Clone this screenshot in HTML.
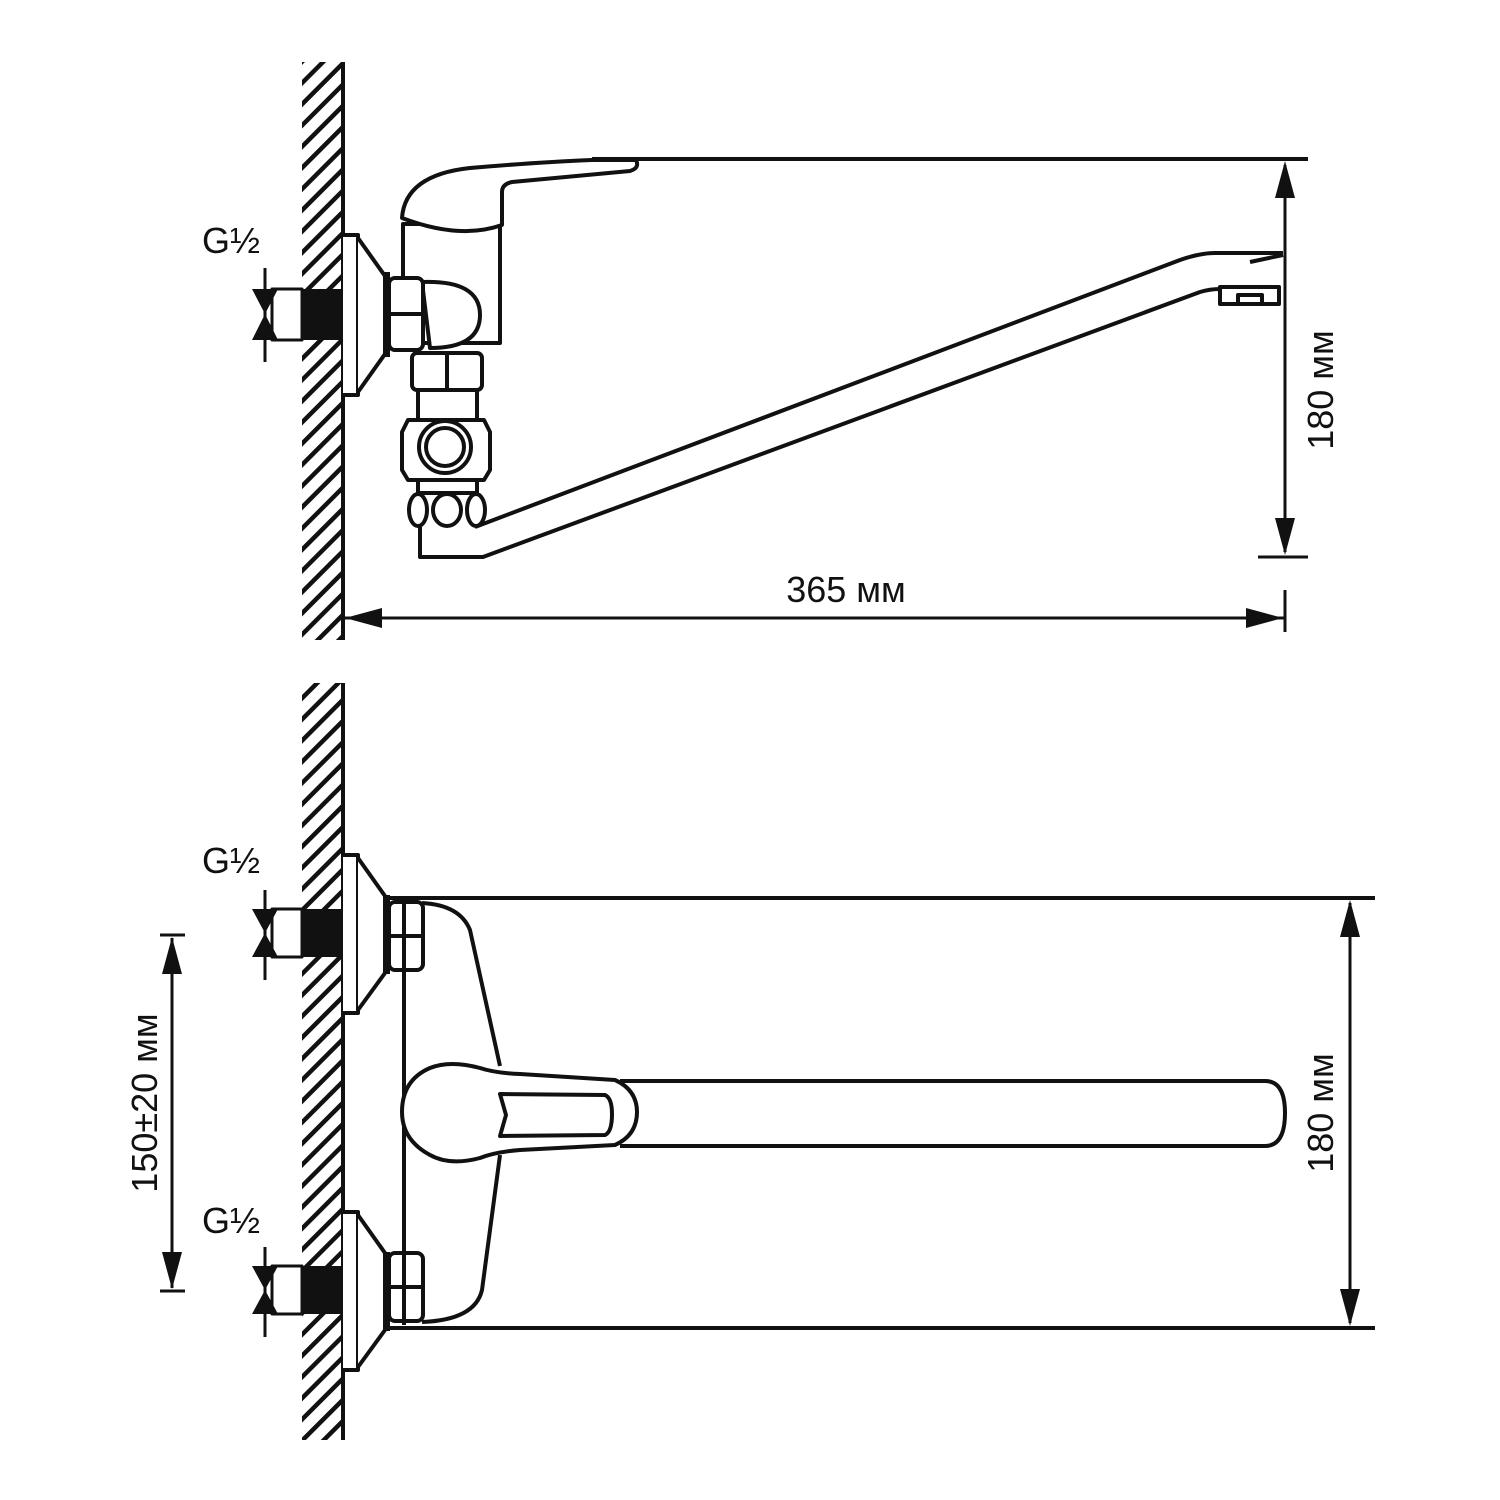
<!DOCTYPE html>
<html><head><meta charset="utf-8"><style>body{margin:0;background:#fff}svg{display:block}</style></head><body>
<svg width="1500" height="1500" viewBox="0 0 1500 1500" xmlns="http://www.w3.org/2000/svg">
<defs>
<pattern id="h" width="15" height="15" patternUnits="userSpaceOnUse" patternTransform="rotate(-45)">
<rect x="0" y="0" width="15" height="4.5" fill="#111"/>
</pattern>
</defs>
<g fill="none" stroke="#111" stroke-width="4" stroke-linejoin="round">
<!-- walls -->
<rect x="302" y="62" width="40" height="578" fill="url(#h)" stroke="none"/>
<line x1="343" y1="62" x2="343" y2="640"/>
<rect x="302" y="683" width="40" height="757" fill="url(#h)" stroke="none"/>
<line x1="343" y1="683" x2="343" y2="1440"/>

<!-- TOP VIEW -->
<rect x="300" y="289" width="43" height="51" fill="#111" stroke="none"/>
<rect x="272" y="289" width="30" height="51" fill="#fff" stroke-width="3"/>
<line x1="265" y1="268" x2="265" y2="362" stroke-width="3"/>
<path d="M252 289 L278 289 L265 314 Z M252 340 L278 340 L265 314 Z" fill="#111" stroke="none"/>
<path d="M343 235 H358 V395 H343" fill="#fff"/>
<path d="M358 238 L385 276 V354 L358 392" fill="#fff"/>
<line x1="387" y1="272" x2="387" y2="357" stroke-width="6"/>
<rect x="403" y="224" width="97" height="119" fill="#fff"/>
<path d="M422 282 Q480 280 480 315 Q480 348 430 348 Z" fill="#fff"/>
<rect x="389" y="278" width="34" height="72" rx="6" fill="#fff"/>
<line x1="389" y1="314" x2="423" y2="314"/>
<path d="M402 218 Q405 175 470 168 Q540 162 592 160 H636 Q640 168 630 171 L512 182 Q502 184 502 192 V225 Q460 240 402 218 Z" fill="#fff"/>
<line x1="592" y1="159" x2="1308" y2="159"/>
<rect x="412" y="353" width="70" height="37" rx="5" fill="#fff"/>
<line x1="447" y1="353" x2="447" y2="390"/>
<rect x="418" y="390" width="59" height="30" fill="#fff"/>
<path d="M408 420 H484 L490 432 V470 L484 480 H408 L402 470 V432 Z" fill="#fff"/>
<circle cx="445" cy="447" r="26"/>
<circle cx="445" cy="447" r="19"/>
<rect x="418" y="480" width="59" height="13" fill="#fff"/>
<!-- spout -->
<path d="M1283 253 H1215 Q1200 253 1180 260 L475 527"/>
<path d="M420 527 V557 H483 L1200 292 Q1210 289 1220 289 H1280"/>
<rect x="1220" y="287" width="59" height="17" fill="#fff"/>
<rect x="1238" y="295" width="24" height="9"/>
<line x1="1250" y1="262" x2="1283" y2="255"/>
<g fill="#fff">
<ellipse cx="418" cy="510" rx="9" ry="16"/>
<ellipse cx="447" cy="510" rx="14" ry="16"/>
<ellipse cx="476" cy="510" rx="9" ry="16"/>
</g>
<!-- dimensions top -->
<line x1="1285" y1="165" x2="1285" y2="552" stroke-width="3"/>
<path d="M1285 161 L1275 198 H1295 Z M1285 555 L1275 518 H1295 Z" fill="#111" stroke="none"/>
<line x1="1258" y1="557" x2="1308" y2="557" stroke-width="3"/>
<line x1="343" y1="618" x2="1285" y2="618" stroke-width="3"/>
<line x1="1285" y1="590" x2="1285" y2="632" stroke-width="3"/>
<path d="M345 618 L382 608 V628 Z M1283 618 L1246 608 V628 Z" fill="#111" stroke="none"/>

<!-- BOTTOM VIEW -->
<g id="fit">
<rect x="300" y="909" width="43" height="48" fill="#111" stroke="none"/>
<rect x="272" y="909" width="30" height="48" fill="#fff" stroke-width="3"/>
<line x1="265" y1="890" x2="265" y2="980" stroke-width="3"/>
<path d="M252 909 L278 909 L265 933 Z M252 957 L278 957 L265 933 Z" fill="#111" stroke="none"/>
<path d="M343 855 H358 V1013 H343" fill="#fff"/>
<path d="M358 858 L385 896 V973 L358 1010" fill="#fff"/>
<line x1="387" y1="895" x2="387" y2="974" stroke-width="6"/>
</g>
<use href="#fit" transform="translate(0,357)"/>
<line x1="388" y1="898" x2="1375" y2="898"/>
<line x1="388" y1="1328" x2="1375" y2="1328"/>
<path d="M422 903 Q460 905 470 930 L500 1066 M500 1155 L482 1290 Q475 1320 422 1322" />
<rect x="389" y="902" width="34" height="68" rx="6" fill="#fff"/>
<line x1="389" y1="936" x2="423" y2="936"/>
<rect x="389" y="1253" width="34" height="68" rx="6" fill="#fff"/>
<line x1="389" y1="1287" x2="423" y2="1287"/>
<line x1="404" y1="902" x2="404" y2="1325"/>
<path d="M620 1081 H1265 Q1285 1081 1285 1113 Q1285 1146 1265 1146 H620" fill="#fff"/>
<path d="M430 1068 Q450 1060 480 1068 Q495 1073 520 1074 L615 1080 Q637 1090 637 1112 Q637 1135 615 1145 L520 1150 Q495 1152 480 1158 Q450 1166 430 1155 Q402 1140 402 1112 Q402 1080 430 1068 Z" fill="#fff"/>
<path d="M500 1094 L605 1095 Q612 1098 612 1114 Q612 1132 605 1135 L500 1136 L506 1115 Z"/>
<line x1="1350" y1="903" x2="1350" y2="1323" stroke-width="3"/>
<path d="M1350 900 L1340 937 H1360 Z M1350 1326 L1340 1289 H1360 Z" fill="#111" stroke="none"/>
<line x1="172" y1="938" x2="172" y2="1288" stroke-width="3"/>
<line x1="160" y1="935" x2="185" y2="935" stroke-width="3"/>
<line x1="160" y1="1291" x2="185" y2="1291" stroke-width="3"/>
<path d="M172 937 L162 974 H182 Z M172 1289 L162 1252 H182 Z" fill="#111" stroke="none"/>
</g>
<g font-family="Liberation Sans, sans-serif" font-size="36" fill="#111">
<text x="202" y="253">G½</text>
<text x="202" y="873">G½</text>
<text x="202" y="1233">G½</text>
<text x="846" y="602" text-anchor="middle">365 мм</text>
<text transform="translate(1333,390) rotate(-90)" text-anchor="middle">180 мм</text>
<text transform="translate(1333,1113) rotate(-90)" text-anchor="middle">180 мм</text>
<text transform="translate(157,1103) rotate(-90)" text-anchor="middle">150±20 мм</text>
</g>
</svg>
</body></html>
